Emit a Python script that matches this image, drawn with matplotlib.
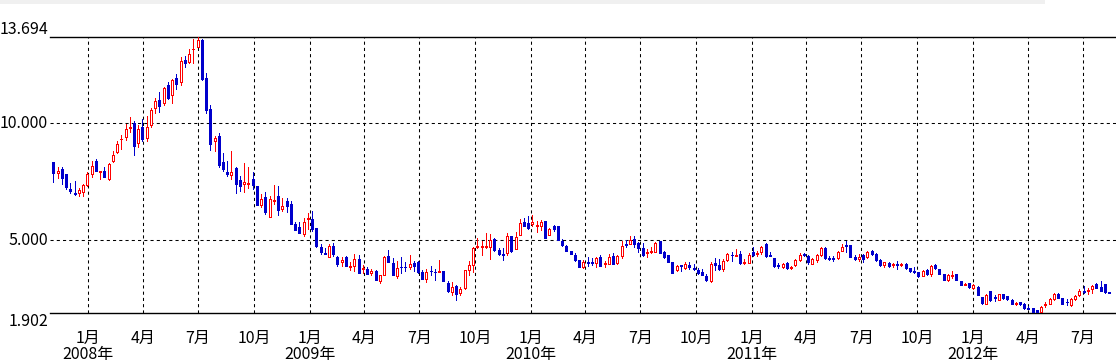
import matplotlib
matplotlib.use("Agg")
import matplotlib.pyplot as plt
import matplotlib.dates as mdates
from matplotlib.patches import Rectangle
import pandas as pd
import numpy as np

plt.rcParams['font.family'] = ['Noto Sans CJK JP', 'DejaVu Sans']

# ---- data (weekly OHLC) ----
start_date = "2007-11-05"
opens = [8.35,7.87,8.05,7.84,7.20,7.03,7.01,7.09,7.36,7.83,8.38,7.94,7.95,7.64,8.41,8.77,9.32,9.41,9.82,10.01,
         9.15,9.86,9.36,9.93,10.65,10.99,10.86,11.64,11.20,11.93,11.79,12.71,12.63,13.17,13.28,13.55,11.94,10.60,9.24,9.46,
         8.34,7.93,7.81,8.11,7.58,7.40,7.43,7.63,7.33,6.53,6.86,6.02,6.70,6.90,6.36,6.69,6.56,5.72,5.58,5.29,
         5.93,5.90,5.53,4.72,4.45,4.31,4.76,4.31,4.09,4.31,3.88,3.92,4.21,3.77,3.77,3.60,3.70,3.28,3.53,4.34,
         4.04,3.50,3.88,3.88,3.88,4.05,4.07,3.65,3.37,3.71,3.67,3.65,3.71,3.18,2.81,3.04,2.77,2.97,3.74,3.97,
         4.72,4.72,4.72,4.74,5.05,4.59,4.44,4.45,5.19,4.65,5.25,5.79,5.75,5.69,5.62,5.63,5.83,5.25,5.63,5.61,
         4.98,4.78,4.57,4.39,4.17,3.88,4.10,4.10,4.04,4.31,4.00,4.01,4.34,4.02,4.34,4.86,4.86,5.08,4.88,4.68,
         4.45,4.51,4.52,4.99,4.49,4.37,4.09,3.75,3.94,3.84,3.97,3.82,3.74,3.67,3.50,3.27,4.04,3.95,3.80,4.17,
         4.40,4.35,4.42,4.05,4.05,4.51,4.41,4.52,4.83,4.37,4.25,3.95,3.87,4.05,3.81,3.94,4.18,4.44,4.35,4.01,
         4.15,4.39,4.69,4.27,4.24,4.25,4.55,4.79,4.81,4.31,4.22,4.39,4.28,4.56,4.44,4.18,3.94,4.05,3.97,3.98,
         3.95,3.98,3.81,3.70,3.67,3.50,3.75,3.55,3.97,3.78,3.55,3.31,3.50,3.55,3.28,3.08,3.17,2.98,3.03,2.60,
         2.30,2.83,2.60,2.47,2.70,2.61,2.46,2.29,2.36,2.29,2.13,2.10,2.02,1.96,2.23,2.30,2.51,2.73,2.56,2.39,
         2.23,2.49,2.67,2.83,2.83,2.91,3.13,3.00,3.16,2.80]
highs = [8.35,8.14,8.14,7.84,7.46,7.54,7.23,7.43,7.94,8.38,8.48,7.99,8.14,8.30,8.84,9.25,9.52,9.98,10.26,10.10,
         9.93,10.18,10.32,10.66,11.07,11.33,11.57,11.79,11.91,12.10,12.83,12.88,13.17,13.59,13.69,13.59,12.16,10.78,9.46,9.58,
         8.74,8.40,8.82,8.15,7.77,8.31,8.14,7.91,7.33,6.97,7.06,6.90,7.36,7.33,6.82,6.83,6.69,5.80,5.80,5.96,
         6.19,6.25,5.53,4.83,4.66,4.83,4.89,4.34,4.31,4.34,4.07,4.41,4.38,3.95,3.86,3.78,3.72,3.53,4.34,4.59,
         4.25,4.11,4.29,4.08,4.38,4.12,4.12,3.73,3.77,3.90,3.80,4.17,3.71,3.26,3.23,3.10,3.03,3.74,4.11,4.74,
         5.09,4.98,5.32,5.26,5.11,4.69,4.68,5.31,5.19,5.36,5.92,5.95,6.06,6.10,5.82,5.88,5.83,5.55,5.68,5.61,
         5.05,4.82,4.57,4.45,4.17,4.17,4.30,4.24,4.31,4.37,4.11,4.42,4.48,4.38,4.99,5.02,5.19,5.21,4.94,4.88,
         4.65,4.71,4.94,4.99,4.54,4.37,4.09,3.95,3.94,4.08,4.08,3.98,3.84,3.77,3.57,4.09,4.24,4.19,4.19,4.47,
         4.51,4.64,4.54,4.21,4.45,4.71,4.55,4.78,4.88,4.51,4.25,4.02,4.05,4.08,3.91,4.21,4.45,4.45,4.39,4.27,
         4.42,4.72,4.72,4.34,4.34,4.54,4.85,4.98,4.81,4.38,4.42,4.42,4.55,4.59,4.45,4.19,4.08,4.10,4.05,4.14,
         4.05,4.05,3.84,3.87,3.67,3.74,3.80,3.94,4.01,3.78,3.55,3.55,3.70,3.55,3.28,3.17,3.18,3.14,3.04,2.60,
         2.71,2.83,2.69,2.73,2.73,2.64,2.49,2.37,2.39,2.31,2.22,2.10,2.02,2.19,2.36,2.54,2.76,2.76,2.56,2.49,
         2.54,2.67,2.91,3.06,2.96,3.10,3.17,3.27,3.16,2.81]
lows = [7.51,7.68,7.41,7.21,7.03,6.96,6.92,6.89,7.31,7.73,7.97,7.61,7.70,7.60,8.37,8.74,8.89,9.28,9.65,8.67,
        9.01,9.27,9.27,9.85,10.43,10.50,10.80,11.03,10.89,11.46,11.66,12.40,12.58,12.57,13.25,11.86,10.46,8.87,8.84,8.15,
        7.98,7.77,7.64,7.04,7.13,7.09,7.26,7.19,6.53,6.43,6.13,6.02,6.56,6.07,6.27,6.23,5.72,5.45,5.31,5.19,
        5.49,5.39,4.74,4.42,4.41,4.31,4.34,3.92,3.92,3.92,3.74,3.70,3.63,3.63,3.55,3.51,3.30,3.17,3.51,4.07,
        3.51,3.41,3.60,3.68,3.78,3.70,3.61,3.34,3.24,3.54,3.33,3.64,3.26,2.79,2.67,2.44,2.67,2.94,3.51,3.67,
        4.69,4.37,4.69,4.22,4.57,4.37,4.18,4.37,4.52,4.62,5.22,5.61,5.51,5.61,5.38,5.46,5.09,5.22,5.42,5.02,
        4.78,4.54,4.41,4.12,3.88,3.82,3.90,3.95,3.88,3.90,3.88,3.98,4.00,3.98,4.27,4.72,4.85,4.74,4.49,4.35,
        4.31,4.46,4.49,4.48,4.26,4.09,3.63,3.68,3.71,3.80,3.77,3.72,3.57,3.53,3.27,3.24,3.75,3.75,3.71,4.11,
        4.14,4.35,4.01,3.99,4.02,4.35,4.34,4.44,4.29,4.34,3.88,3.84,3.81,3.78,3.77,3.90,4.12,4.32,3.99,3.99,
        4.10,4.34,4.21,4.15,4.11,4.20,4.54,4.52,4.31,4.18,4.14,4.10,4.24,4.38,4.12,3.91,3.88,3.85,3.88,3.80,
        3.90,3.78,3.65,3.62,3.44,3.47,3.54,3.50,3.77,3.55,3.30,3.28,3.38,3.31,3.08,3.08,2.97,2.93,2.66,2.30,
        2.27,2.43,2.40,2.44,2.50,2.46,2.27,2.23,2.24,2.09,2.07,1.96,1.91,1.93,2.17,2.27,2.47,2.53,2.30,2.24,
        2.20,2.46,2.63,2.76,2.73,2.77,2.98,2.84,2.77,2.74]
closes = [7.90,7.97,7.68,7.27,7.12,6.99,7.14,7.37,7.84,8.18,7.99,7.98,7.73,8.25,8.64,9.11,9.35,9.75,9.86,9.05,
          9.75,9.32,9.86,10.56,10.96,10.75,11.50,11.07,11.86,11.70,12.67,12.58,12.97,13.20,13.55,11.90,10.56,9.11,9.39,8.24,
          8.07,7.84,7.93,7.41,7.34,7.50,7.45,7.38,6.53,6.77,6.22,6.77,6.73,6.32,6.47,6.49,5.72,5.45,5.31,5.79,
          5.97,5.48,4.76,4.51,4.41,4.76,4.42,4.00,4.18,3.92,3.92,4.19,3.63,3.81,3.57,3.70,3.30,3.53,4.29,4.09,
          3.51,3.81,3.85,3.85,3.98,3.92,3.64,3.37,3.67,3.68,3.64,3.68,3.26,2.83,3.00,2.73,2.93,3.74,3.94,4.68,
          4.75,4.75,4.75,5.02,4.59,4.41,4.40,5.21,4.55,5.16,5.75,5.62,5.53,5.78,5.66,5.79,5.09,5.49,5.51,5.02,
          4.82,4.57,4.41,4.15,3.88,4.10,4.04,4.05,4.25,3.92,4.03,4.29,4.01,4.34,4.76,4.79,5.01,4.84,4.68,4.37,
          4.52,4.54,4.91,4.48,4.29,4.09,3.63,3.91,3.91,4.00,3.87,3.80,3.63,3.54,3.30,4.01,3.94,3.78,4.14,4.41,
          4.37,4.38,4.04,4.10,4.39,4.37,4.48,4.72,4.33,4.34,3.90,3.91,4.01,3.82,3.88,4.18,4.39,4.37,4.08,4.21,
          4.38,4.66,4.24,4.23,4.20,4.51,4.74,4.75,4.31,4.22,4.31,4.22,4.51,4.42,4.15,3.94,4.07,3.92,4.01,3.95,
          3.99,3.81,3.71,3.67,3.47,3.71,3.58,3.91,3.82,3.58,3.33,3.54,3.54,3.31,3.11,3.13,3.00,3.11,2.66,2.33,
          2.66,2.47,2.56,2.70,2.53,2.49,2.30,2.33,2.27,2.12,2.09,1.96,1.91,2.16,2.27,2.51,2.73,2.56,2.30,2.36,
          2.51,2.64,2.83,2.79,2.87,3.06,2.98,2.86,2.80,2.76]

y_min, y_max = 1.902, 13.694
y_labels = ["13.694", "10.000", "5.000", "1.902"]
y_label_values = [13.694, 10.0, 5.0, 1.902]
grid_levels = [10.0, 5.0]
month_ticks = pd.date_range("2008-01-01", "2012-07-01", freq="3MS")

UP = "#FF0000"
DOWN = "#0000CC"

dates = pd.date_range(start_date, periods=len(opens), freq="7D")
x = mdates.date2num(dates.to_pydatetime())
o = np.array(opens); h = np.array(highs); l = np.array(lows); c = np.array(closes)

W, H = 1116, 364
fig = plt.figure(figsize=(W / 100, H / 100), dpi=100)
fig.patch.set_facecolor("white")
fig.patches.append(Rectangle((0, 1 - 4 / H), 1045 / W, 4 / H, transform=fig.transFigure,
                             facecolor="#F0F0F0", edgecolor="none"))
ax = fig.add_axes([50 / W, 51 / H, 1066 / W, 276 / H])

up = c >= o
cols = np.where(up, UP, DOWN)

ax.vlines(x, l, h, colors=cols, linewidth=0.6, zorder=3, antialiased=False)
body_low = np.minimum(o, c)
body_h = np.maximum(np.abs(c - o), 0.02)
ax.bar(x[~up], body_h[~up], bottom=body_low[~up], width=3.3, color=DOWN,
       edgecolor=DOWN, linewidth=0.6, zorder=4, antialiased=False)
ax.bar(x[up], body_h[up], bottom=body_low[up], width=3.3, color="white",
       edgecolor=UP, linewidth=0.6, zorder=4, antialiased=False)

ax.set_ylim(y_min, y_max)
ax.set_xlim(mdates.date2num(pd.Timestamp("2007-10-30 08:00")),
            mdates.date2num(pd.Timestamp("2012-08-24 12:00")))

for lv in grid_levels:
    ax.axhline(lv, color="black", linewidth=0.75, linestyle=(0, (3, 3)), zorder=1)
for d in month_ticks:
    ax.axvline(mdates.date2num(d), color="black", linewidth=0.75, linestyle=(0, (3, 3)), zorder=1)

ax.set_xticks([]); ax.set_yticks([])
for s in ["left", "right"]:
    ax.spines[s].set_visible(False)
for s in ["top", "bottom"]:
    ax.spines[s].set_linewidth(1.0)
    ax.spines[s].set_color("black")

offsets = {13.694: 8, 10.0: 0, 5.0: 0, 1.902: -9}
for lab, val in zip(y_labels, y_label_values):
    ax.annotate(lab, xy=(0, val), xycoords=("axes fraction", "data"),
                xytext=(-2, offsets[val]), textcoords="offset pixels",
                ha="right", va="center", fontsize=11.5, color="black", annotation_clip=False)

for d in month_ticks:
    xd = mdates.date2num(d)
    ax.annotate(f"{d.month}月", xy=(xd, 0), xycoords=("data", "axes fraction"),
                xytext=(0, -25), textcoords="offset pixels", ha="center", va="center",
                fontsize=11.5, color="black", annotation_clip=False)
    if d.month == 1:
        ax.annotate(f"{d.year}年", xy=(xd, 0), xycoords=("data", "axes fraction"),
                    xytext=(0, -41), textcoords="offset pixels", ha="center", va="center",
                    fontsize=11.5, color="black", annotation_clip=False)

fig.savefig("out.png", dpi=100)
